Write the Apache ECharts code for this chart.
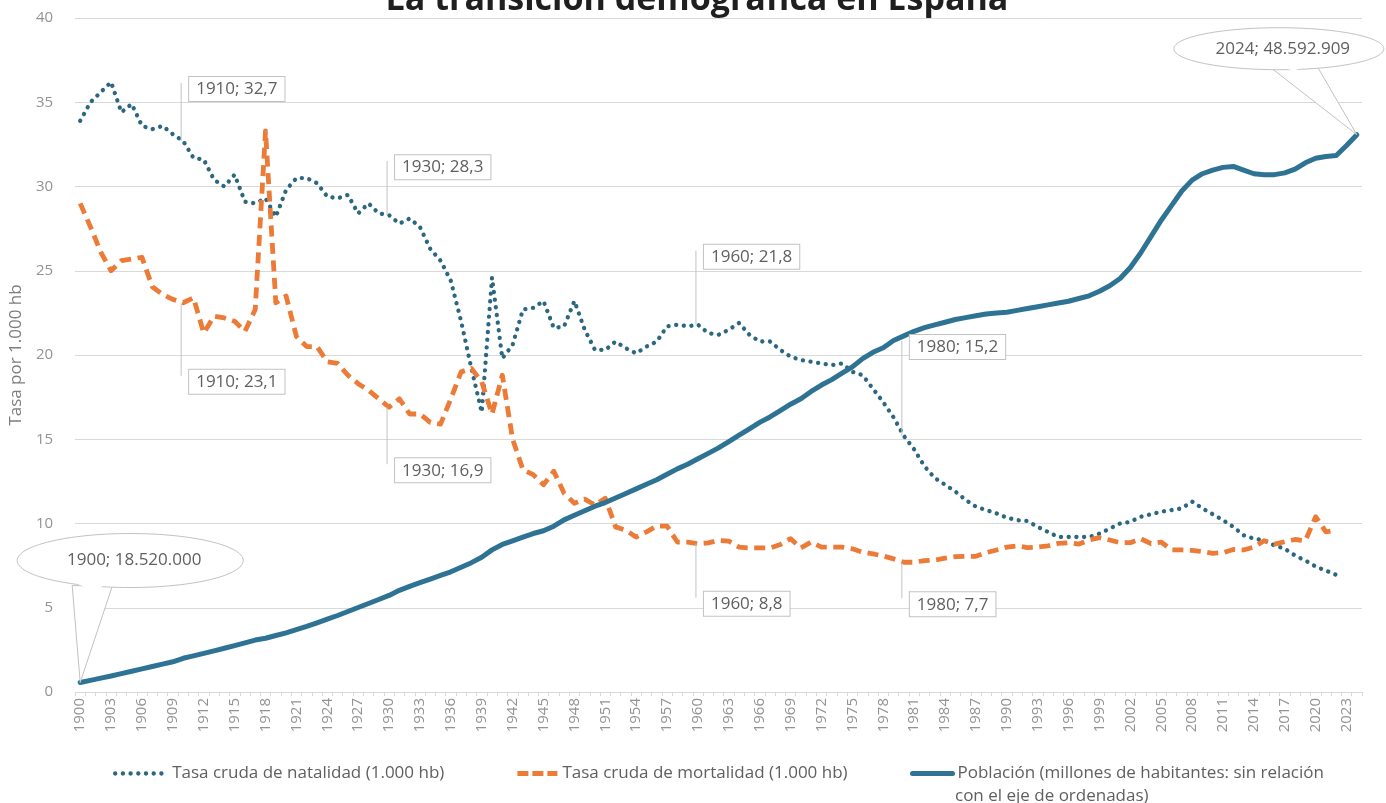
<!DOCTYPE html>
<html lang="es">
<head>
<meta charset="utf-8">
<title>La transición demográfica en España</title>
<script src="https://cdn.jsdelivr.net/npm/echarts@6/dist/echarts.min.js"></script>
<style>
  html, body { margin: 0; padding: 0; background: #ffffff; }
  #chart { width: 1386px; height: 803px; }
</style>
</head>
<body>
<div id="chart"></div>
<script>
// Años (categorías del eje horizontal)
const anios = [
  1900,1901,1902,1903,1904,1905,1906,1907,1908,1909,
  1910,1911,1912,1913,1914,1915,1916,1917,1918,1919,
  1920,1921,1922,1923,1924,1925,1926,1927,1928,1929,
  1930,1931,1932,1933,1934,1935,1936,1937,1938,1939,
  1940,1941,1942,1943,1944,1945,1946,1947,1948,1949,
  1950,1951,1952,1953,1954,1955,1956,1957,1958,1959,
  1960,1961,1962,1963,1964,1965,1966,1967,1968,1969,
  1970,1971,1972,1973,1974,1975,1976,1977,1978,1979,
  1980,1981,1982,1983,1984,1985,1986,1987,1988,1989,
  1990,1991,1992,1993,1994,1995,1996,1997,1998,1999,
  2000,2001,2002,2003,2004,2005,2006,2007,2008,2009,
  2010,2011,2012,2013,2014,2015,2016,2017,2018,2019,
  2020,2021,2022,2023,2024
];

// Tasa bruta de natalidad (por 1.000 habitantes)
const natalidad = [
  33.9,35.0,35.6,36.2,34.4,34.9,33.6,33.4,33.6,33.1,
  32.7,31.7,31.6,30.4,30.0,30.7,29.1,29.0,29.3,28.2,
  29.8,30.5,30.5,30.2,29.4,29.3,29.5,28.4,29.0,28.4,
  28.3,27.8,28.1,27.6,26.3,25.6,24.4,22.0,19.2,16.6,
  24.6,19.8,20.6,22.7,22.8,23.2,21.6,21.7,23.2,21.5,
  20.3,20.3,20.8,20.4,20.1,20.5,20.8,21.7,21.8,21.7,
  21.8,21.3,21.2,21.5,21.9,21.2,20.8,20.8,20.3,19.9,
  19.7,19.6,19.5,19.4,19.5,19.0,18.8,18.0,17.2,16.3,
  15.2,14.4,13.4,12.7,12.3,11.9,11.4,11.0,10.8,10.6,
  10.35,10.2,10.15,9.8,9.5,9.2,9.2,9.2,9.2,9.4,
  9.7,10.0,10.1,10.4,10.55,10.7,10.8,10.9,11.3,10.9,
  10.55,10.2,9.8,9.3,9.1,9.0,8.7,8.5,8.1,7.8,
  7.45,7.2,6.95,null,null
];

// Tasa bruta de mortalidad (por 1.000 habitantes)
const mortalidad = [
  29.0,27.6,26.1,25.0,25.6,25.7,25.8,24.05,23.6,23.3,
  23.1,23.4,21.3,22.3,22.2,22.0,21.4,22.7,33.3,23.1,
  23.5,21.1,20.5,20.5,19.6,19.5,18.8,18.3,17.9,17.4,
  16.9,17.4,16.5,16.5,16.0,15.9,17.4,19.0,19.2,18.4,
  16.5,18.8,15.0,13.2,12.9,12.3,13.1,11.8,11.2,11.45,
  11.1,11.5,9.8,9.6,9.2,9.5,9.85,9.85,8.9,8.9,
  8.8,8.85,9.0,8.95,8.6,8.55,8.55,8.55,8.75,9.1,
  8.55,8.9,8.6,8.6,8.6,8.5,8.3,8.2,8.07,7.9,
  7.7,7.7,7.8,7.83,7.94,8.03,8.05,8.05,8.27,8.43,
  8.6,8.67,8.57,8.6,8.67,8.82,8.86,8.78,9.02,9.16,
  9.02,8.86,8.86,9.1,8.8,8.9,8.43,8.43,8.4,8.33,
  8.23,8.27,8.46,8.43,8.6,8.98,8.78,8.92,9.05,8.98,
  10.4,9.5,9.6,null,null
];

// Población (millones de habitantes)
const poblacion = [
  18.52,18.64,18.76,18.88,19.01,19.14,19.27,19.40,19.53,19.66,
  19.85,19.98,20.12,20.26,20.40,20.55,20.70,20.85,20.95,21.10,
  21.25,21.42,21.60,21.80,22.00,22.20,22.42,22.64,22.86,23.08,
  23.30,23.58,23.80,24.00,24.20,24.40,24.60,24.85,25.10,25.40,
  25.80,26.10,26.30,26.50,26.70,26.85,27.10,27.45,27.70,27.95,
  28.20,28.40,28.65,28.90,29.15,29.40,29.65,29.95,30.25,30.50,
  30.80,31.10,31.40,31.75,32.10,32.45,32.80,33.10,33.45,33.80,
  34.10,34.50,34.85,35.15,35.50,35.85,36.30,36.65,36.90,37.30,
  37.55,37.80,38.00,38.15,38.30,38.45,38.55,38.65,38.75,38.80,
  38.85,38.95,39.05,39.15,39.25,39.35,39.45,39.60,39.75,40.00,
  40.30,40.70,41.30,42.10,43.00,43.90,44.70,45.50,46.10,46.45,
  46.65,46.80,46.85,46.65,46.45,46.40,46.40,46.50,46.70,47.05,
  47.30,47.40,47.45,48.00,48.592909
];

// Años con etiqueta de valor sobre las tasas
const aniosEtiquetados = [1910, 1930, 1960, 1980];

// Marcas del eje vertical
const ticksTasa = [0, 5, 10, 15, 20, 25, 30, 35, 40];

const NOMBRE_NAT = 'Tasa cruda de natalidad (1.000 hb)';
const NOMBRE_MORT = 'Tasa cruda de mortalidad (1.000 hb)';
const NOMBRE_POB = 'Población (millones de habitantes: sin relación\ncon el eje de ordenadas)';

const COLOR_NAT = '#2b6780';
const COLOR_MORT = '#ec7b38';
const COLOR_POB = '#2e7394';
const GRIS_TEXTO = '#5f5f5f';
const GRIS_EJE = '#939393';
const GRIS_REJILLA = '#d9d9d9';
const GRIS_BORDE = '#c2c2c2';
const FUENTE = '"Open Sans", Roboto, "DejaVu Sans", sans-serif';
const TAM_LEYENDA = 17;
const TAM_ETIQUETA = 17;

const estiloNat = { color: COLOR_NAT, width: 4.3, type: [0.1, 7.6], cap: 'round', join: 'round' };
const estiloMort = { color: COLOR_MORT, width: 4.8, type: [11, 6.5], cap: 'butt', join: 'round' };
const estiloPob = { color: COLOR_POB, width: 5, cap: 'round', join: 'round' };

const chart = echarts.init(document.getElementById('chart'), null, { renderer: 'canvas' });

function coma(v) { return v.toFixed(1).replace('.', ','); }
function miles(n) { return String(Math.round(n)).replace(/\B(?=(\d{3})+(?!\d))/g, '.'); }

const leyendaBase = {
  orient: 'horizontal',
  top: 765,
  padding: 0,
  itemHeight: 14,
  itemGap: 0,
  itemStyle: { opacity: 0 },
  formatter: function (n) { return n.split('\n')[0]; },
  textStyle: { color: GRIS_TEXTO, fontSize: TAM_LEYENDA, fontFamily: FUENTE }
};

chart.setOption({
  animation: false,
  backgroundColor: '#ffffff',
  textStyle: { fontFamily: FUENTE },
  grid: { left: 73, right: 24, top: 18, bottom: 111 },
  legend: [
    Object.assign({}, leyendaBase, {
      left: 113, itemWidth: 52, data: [NOMBRE_NAT],
      lineStyle: { width: 4.3, type: [0.1, 7.6], cap: 'round' }
    }),
    Object.assign({}, leyendaBase, {
      left: 515, itemWidth: 40, data: [NOMBRE_MORT],
      lineStyle: { width: 4.8, type: [11, 4], cap: 'butt' }
    }),
    Object.assign({}, leyendaBase, {
      left: 910, itemWidth: 40, data: [NOMBRE_POB],
      lineStyle: { width: 5, cap: 'round' }
    })
  ],
  xAxis: {
    type: 'category',
    data: anios,
    boundaryGap: true,
    axisLine: { show: true, lineStyle: { color: GRIS_REJILLA, width: 1 } },
    axisTick: { show: true, interval: 0, length: 4, lineStyle: { color: GRIS_REJILLA } },
    axisLabel: {
      interval: 2, rotate: 90, margin: 6,
      color: GRIS_EJE, fontSize: 15, fontFamily: FUENTE
    },
    splitLine: { show: false }
  },
  yAxis: [
    {
      type: 'value',
      min: ticksTasa[0],
      max: ticksTasa[ticksTasa.length - 1],
      interval: ticksTasa[1] - ticksTasa[0],
      name: 'Tasa por 1.000 hb',
      nameLocation: 'middle',
      nameGap: 43,
      nameRotate: 90,
      nameTextStyle: { color: '#7d7d7d', fontSize: 17, fontFamily: FUENTE },
      axisLine: { show: false },
      axisTick: { show: false },
      axisLabel: { color: GRIS_EJE, fontSize: 15, margin: 22, fontFamily: FUENTE },
      splitLine: { lineStyle: { color: GRIS_REJILLA, width: 1 } }
    },
    {
      // Escala de la población: sin relación con el eje de ordenadas
      type: 'value', min: 18, max: 55, show: false,
      splitLine: { show: false }
    }
  ],
  series: [
    {
      name: NOMBRE_NAT,
      type: 'line',
      data: natalidad,
      symbol: 'none',
      lineStyle: estiloNat,
      itemStyle: { color: COLOR_NAT },
      z: 2
    },
    {
      name: NOMBRE_MORT,
      type: 'line',
      data: mortalidad,
      symbol: 'none',
      lineStyle: estiloMort,
      itemStyle: { color: COLOR_MORT },
      z: 2
    },
    {
      name: NOMBRE_POB,
      type: 'line',
      yAxisIndex: 1,
      data: poblacion,
      symbol: 'none',
      lineStyle: estiloPob,
      itemStyle: { color: COLOR_POB },
      z: 3
    }
  ]
});

// Desplazamientos de las cajas de valor respecto al punto (estilo)
const desplazNat = [-64, -60, -80, -101];
const desplazMort = [67, 51, 48, 30];

function punto(i, v, eje) {
  return chart.convertToPixel({ xAxisIndex: 0, yAxisIndex: eje }, [i, v]);
}

function cajaValor(anio, valor, eje, dy, out) {
  const i = anios.indexOf(anio);
  const p = punto(i, valor, eje);
  const top = p[1] + dy;
  out.push({
    type: 'line', z: 50, silent: true,
    shape: { x1: p[0] - 2, y1: p[1], x2: p[0] - 2, y2: top + 6 },
    style: { stroke: GRIS_BORDE, lineWidth: 1 }
  });
  out.push({
    type: 'text', z: 51, silent: true,
    x: p[0] + 6, y: top,
    style: {
      text: anio + '; ' + coma(valor),
      font: TAM_ETIQUETA + 'px ' + FUENTE,
      fill: GRIS_TEXTO,
      backgroundColor: '#ffffff',
      borderColor: GRIS_BORDE,
      borderWidth: 1,
      padding: [4, 7, 3, 7],
      textVerticalAlign: 'top'
    }
  });
}

function globo(i, cx, cy, rx, ry, base1, base2, out) {
  const p = punto(i, poblacion[i], 1);
  const c = [p[0] + cx, p[1] + cy];
  out.push({
    type: 'polygon', z: 50, silent: true,
    shape: { points: [[p[0] + base1[0], p[1] + base1[1]], p, [p[0] + base2[0], p[1] + base2[1]]] },
    style: { fill: '#ffffff', stroke: GRIS_BORDE, lineWidth: 1 }
  });
  out.push({
    type: 'ellipse', z: 51, silent: true,
    shape: { cx: c[0], cy: c[1], rx: rx, ry: ry },
    style: { fill: '#ffffff', stroke: GRIS_BORDE, lineWidth: 1 }
  });
  // une el globo con su cola en una sola silueta
  out.push({
    type: 'polygon', z: 52, silent: true,
    shape: { points: [[p[0] + base1[0] + 1.5, p[1] + base1[1] - 3], [p[0] + (base1[0] + base2[0]) / 2, p[1] + (base1[1] + base2[1]) / 2 + 4], [p[0] + base2[0] - 1.5, p[1] + base2[1] - 3]] },
    style: { fill: '#ffffff' }
  });
  out.push({
    type: 'text', z: 53, silent: true,
    x: c[0] + 4, y: c[1],
    style: {
      text: anios[i] + '; ' + miles(poblacion[i] * 1e6),
      font: TAM_ETIQUETA + 'px ' + FUENTE, fill: GRIS_TEXTO,
      textAlign: 'center', textVerticalAlign: 'middle'
    }
  });
}

const graficos = [];
aniosEtiquetados.forEach(function (anio, k) {
  const i = anios.indexOf(anio);
  cajaValor(anio, natalidad[i], 0, desplazNat[k], graficos);
  cajaValor(anio, mortalidad[i], 0, desplazMort[k], graficos);
});
globo(0, 50, -122, 113, 27, [-8, -97], [32, -96], graficos);
globo(anios.length - 1, -78, -86, 105, 21, [-86, -67], [-40, -69], graficos);

// Segunda línea del texto de leyenda de la población
graficos.push({
  type: 'text', z: 60, silent: true,
  x: 955, y: 796,
  style: {
    text: NOMBRE_POB.split('\n')[1],
    font: TAM_LEYENDA + 'px ' + FUENTE, fill: GRIS_TEXTO,
    textAlign: 'left', textVerticalAlign: 'middle'
  }
});

// Título (queda parcialmente fuera del borde superior)
graficos.push({
  type: 'text', z: 60, silent: true,
  x: 697, y: 0,
  style: {
    text: 'La transición demográfica en España',
    font: 'bold 34px ' + FUENTE, fill: '#1f1f1f',
    textAlign: 'center', textVerticalAlign: 'middle'
  }
});

chart.setOption({ graphic: graficos });
</script>
</body>
</html>
